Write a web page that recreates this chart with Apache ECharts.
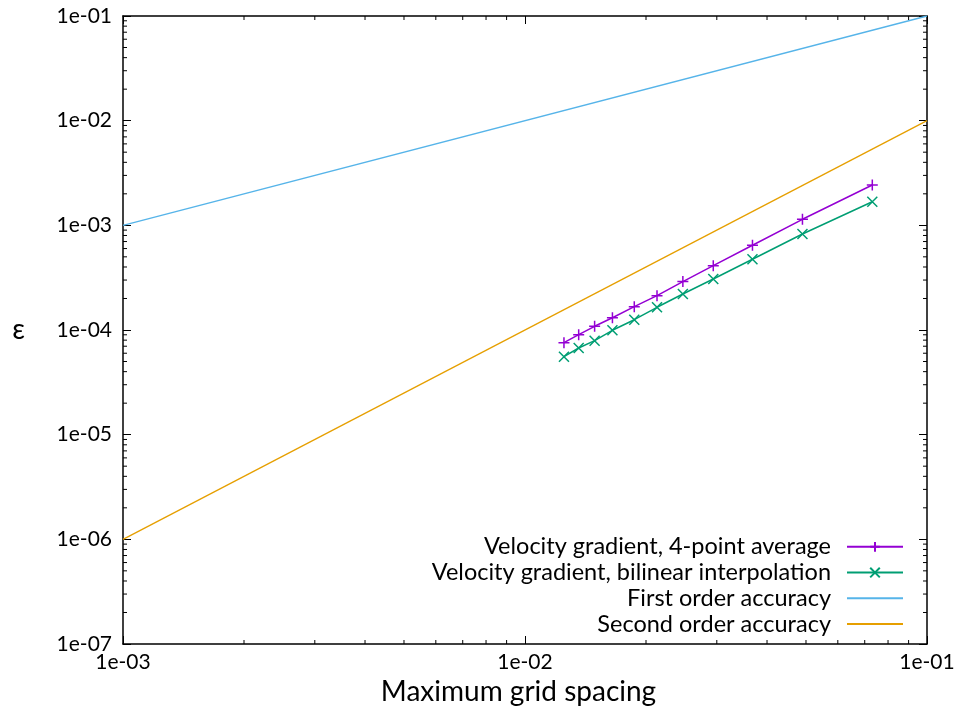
<!DOCTYPE html>
<html>
<head>
<meta charset="utf-8">
<script src="https://cdn.jsdelivr.net/npm/echarts@6/dist/echarts.min.js"></script>
<style>html,body{margin:0;padding:0;background:#fff}#c{width:958px;height:711px}</style>
</head>
<body>
<div id="c"></div>
<script>
// ---- data ----
var spacing4pt = [0.0125, 0.0136, 0.0149, 0.0165, 0.0187, 0.0213, 0.0247, 0.0294, 0.0368, 0.0490, 0.0731];
var err4pt     = [7.57e-5, 9.02e-5, 1.085e-4, 1.31e-4, 1.67e-4, 2.13e-4, 2.90e-4, 4.12e-4, 6.45e-4, 1.142e-3, 2.43e-3];
var spacingBil = [0.0125, 0.0136, 0.0149, 0.0165, 0.0187, 0.0213, 0.0247, 0.0294, 0.0368, 0.0490, 0.0731];
var errBil     = [5.56e-5, 6.73e-5, 7.91e-5, 9.94e-5, 1.254e-4, 1.648e-4, 2.208e-4, 3.07e-4, 4.74e-4, 8.26e-4, 1.682e-3];
var firstOrderX  = [1e-3, 1e-1];
var firstOrderY  = [1e-3, 1e-1];
var secondOrderX = [1e-3, 1e-1];
var secondOrderY = [1e-6, 1e-2];
var seriesNames = ['Velocity gradient, 4-point average', 'Velocity gradient, bilinear interpolation', 'First order accuracy', 'Second order accuracy'];
var colors = ['#9400d3', '#009e73', '#56b4e9', '#e69f00'];
var xMin = 1e-3, xMax = 1e-1, yMin = 1e-7, yMax = 1e-1;
var xTitle = 'Maximum grid spacing';
var yTitle = 'ε';

function zip(a, b) { return a.map(function (v, i) { return [v, b[i]]; }); }
function fmt(v) {
  var e = Math.round(Math.log10(v));
  var s = Math.abs(e) < 10 ? '0' + Math.abs(e) : '' + Math.abs(e);
  return '1e' + (e < 0 ? '-' : '+') + s;
}
// minor tick positions (2..9 x each decade)
function minors(lo, hi) {
  var out = [];
  for (var d = Math.round(Math.log10(lo)); d < Math.round(Math.log10(hi)); d++) {
    for (var k = 2; k <= 9; k++) out.push(k * Math.pow(10, d));
  }
  return out;
}
var xMinor = minors(xMin, xMax);
var yMinor = minors(yMin, yMax);

var FONT = 'Lato';
var AX = '#000';
var MINOR_LEN = 4;

var chart = echarts.init(document.getElementById('c'));
var axisCommon = {
  type: 'log', logBase: 10,
  axisLine: { show: true, onZero: false, lineStyle: { color: AX, width: 1.5 } },
  axisTick: { show: true, inside: true, length: 8, lineStyle: { color: AX, width: 1 } },
  splitLine: { show: false },
  minorTick: { show: false },
  minorSplitLine: { show: false }
};
var clearSym = { color: 'rgba(0,0,0,0)', borderWidth: 0, borderColor: 'rgba(0,0,0,0)' };
var option = {
  animation: false,
  backgroundColor: '#fff',
  grid: { left: 123, right: 31, top: 16, bottom: 67, containLabel: false },
  xAxis: [
    Object.assign({}, axisCommon, {
      position: 'bottom', min: xMin, max: xMax,
      axisLabel: { show: true, formatter: fmt, color: '#000', fontFamily: FONT, fontSize: 21, margin: 8 },
      name: xTitle, nameLocation: 'middle', nameGap: 32,
      nameTextStyle: { color: '#000', fontFamily: FONT, fontSize: 28, padding: [0, 13, 0, 0] }
    }),
    Object.assign({}, axisCommon, {
      position: 'top', min: xMin, max: xMax, axisLabel: { show: false }
    })
  ],
  yAxis: [
    Object.assign({}, axisCommon, {
      position: 'left', min: yMin, max: yMax,
      axisLabel: { show: true, formatter: fmt, color: '#000', fontFamily: FONT, fontSize: 21, margin: 11 },
      name: yTitle, nameLocation: 'middle', nameGap: 98, nameRotate: 0,
      nameTextStyle: { color: '#000', fontFamily: FONT, fontSize: 28 }
    }),
    Object.assign({}, axisCommon, {
      position: 'right', min: yMin, max: yMax, axisLabel: { show: false }
    })
  ],
  legend: {
    orient: 'vertical', align: 'right',
    right: 54, top: 534, padding: 0,
    itemWidth: 56, itemHeight: 12, itemGap: 0,
    data: [
      { name: seriesNames[0] },
      { name: seriesNames[1] },
      { name: seriesNames[2], itemStyle: clearSym },
      { name: seriesNames[3], itemStyle: clearSym }
    ],
    selectedMode: false,
    textStyle: { color: '#000', fontFamily: FONT, fontSize: 23.5, lineHeight: 25.7, padding: [0, 11, 0, 0] }
  },
  series: [
    {
      name: seriesNames[0], type: 'line', data: zip(spacing4pt, err4pt),
      symbol: 'path://M0,5L10,5M5,0L5,10', symbolSize: 11,
      lineStyle: { color: colors[0], width: 1.5 },
      itemStyle: { color: 'rgba(0,0,0,0)', borderColor: colors[0], borderWidth: 1.5 },
      z: 3
    },
    {
      name: seriesNames[1], type: 'line', data: zip(spacingBil, errBil),
      symbol: 'path://M0,0L10,10M10,0L0,10', symbolSize: 10,
      lineStyle: { color: colors[1], width: 1.5 },
      itemStyle: { color: 'rgba(0,0,0,0)', borderColor: colors[1], borderWidth: 1.5 },
      z: 3
    },
    {
      name: seriesNames[2], type: 'line', data: zip(firstOrderX, firstOrderY),
      symbol: 'none', lineStyle: { color: colors[2], width: 1.3 }, itemStyle: { color: colors[2] }, z: 2
    },
    {
      name: seriesNames[3], type: 'line', data: zip(secondOrderX, secondOrderY),
      symbol: 'none', lineStyle: { color: colors[3], width: 1.3 }, itemStyle: { color: colors[3] }, z: 2
    },
    {
      name: 'xminor', type: 'custom', silent: true, z: 4,
      data: xMinor.map(function (v) { return [v, 1e-4]; }),
      renderItem: function (params, api) {
        var cs = params.coordSys;
        var px = api.coord([api.value(0), api.value(1)])[0];
        var st = { stroke: AX, lineWidth: 1 };
        return { type: 'group', children: [
          { type: 'line', shape: { x1: px, y1: cs.y + cs.height, x2: px, y2: cs.y + cs.height - MINOR_LEN }, style: st },
          { type: 'line', shape: { x1: px, y1: cs.y, x2: px, y2: cs.y + MINOR_LEN }, style: st }
        ] };
      }
    },
    {
      name: 'yminor', type: 'custom', silent: true, z: 4,
      data: yMinor.map(function (v) { return [1e-2, v]; }),
      renderItem: function (params, api) {
        var cs = params.coordSys;
        var py = api.coord([api.value(0), api.value(1)])[1];
        var st = { stroke: AX, lineWidth: 1 };
        return { type: 'group', children: [
          { type: 'line', shape: { x1: cs.x, y1: py, x2: cs.x + MINOR_LEN, y2: py }, style: st },
          { type: 'line', shape: { x1: cs.x + cs.width, y1: py, x2: cs.x + cs.width - MINOR_LEN, y2: py }, style: st }
        ] };
      }
    }
  ]
};
chart.setOption(option);
</script>
</body>
</html>
